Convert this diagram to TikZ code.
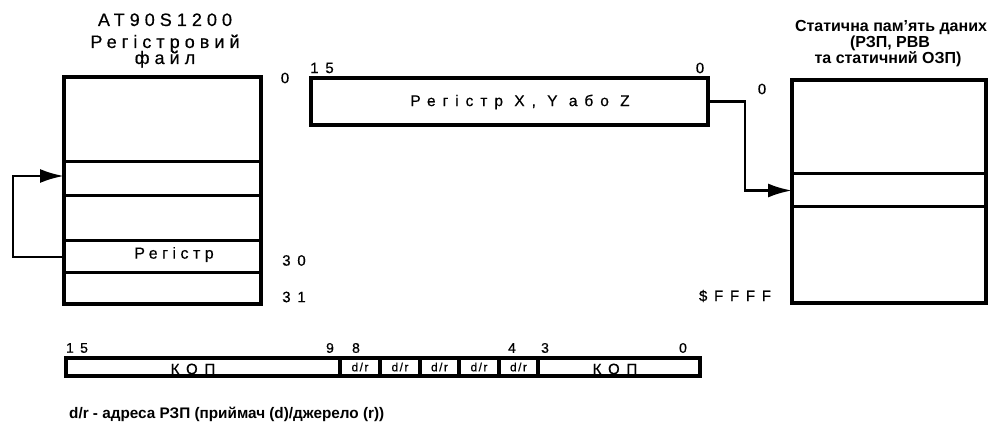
\documentclass[tikz,border=0pt]{standalone}
\usepackage{fontspec}
\setmainfont{Liberation Sans}
\newfontfamily\spA[LetterSpace=28,FakeBold=0.5]{Liberation Sans}
\newfontfamily\spB[LetterSpace=45,FakeBold=0.5]{Liberation Sans}
\newfontfamily\spC[LetterSpace=12,FakeBold=0.6]{Liberation Sans}
\usetikzlibrary{arrows.meta}

\begin{document}
\begin{tikzpicture}[x=1pt,y=-1pt,
  frame/.style={draw, line width=3.4pt, inner sep=0pt, outer sep=0pt},
  cell/.style={draw, line width=3pt, inner sep=0pt, outer sep=0pt},
  sep/.style={line width=4pt},
  wire/.style={line width=2.8pt, -{Latex[length=24pt,width=14pt]}},
  title/.style={inner sep=0pt, anchor=base, font=\spA\fontsize{18}{18}\selectfont},
  lab/.style={inner sep=0pt, font=\spA\fontsize{16}{16}\selectfont},
  num/.style={inner sep=0pt, font=\spB\fontsize{15}{15}\selectfont},
  bit/.style={inner sep=0pt, font=\spB\fontsize{14}{14}\selectfont},
  dr/.style={inner sep=0pt, font=\spC\fontsize{12}{12}\selectfont},
  kop/.style={inner sep=0pt, font=\spB\fontsize{15}{15}\selectfont},
  head/.style={inner sep=0pt, anchor=base, font=\bfseries\fontsize{16}{16}\selectfont},
]
\useasboundingbox (0,0) rectangle (1006,427);
\fill[white] (0,0) rectangle (1006,427);

% register file of the AT90S1200
\node[title] (t1) at (165,26) {AT90S1200};
\node[title] (t2) at (165,48) {Регістровий};
\node[title] (t3) at (165,64) {файл};
\node[frame, minimum width=197pt, minimum height=227pt] (rf) at (162.5,190.5) {};
\node[cell, minimum width=197pt, minimum height=34pt] (tr) at (162.5,179) {};
\node[cell, minimum width=197pt, minimum height=45pt] (mid) at (162.5,218.5) {};
\node[cell, minimum width=197pt, minimum height=32pt] (rr) at (162.5,257) {};
\node[lab] (rrt) at (174,254.5) {Регістр};
\node[num] (n0) at (285,78) {0};
\node[num] (n30) at (294,260.5) {30};
\node[num] (n31) at (294,297) {31};

% feedback from the register back into the file
\coordinate (tin) at (64,176);
\coordinate (lb) at (13,257);
\draw[wire] (rr.west) -- (lb) |- (tin);

% pointer register X, Y or Z
\node[frame, minimum width=397pt, minimum height=47pt] (xr) at (509.5,101.5) {};
\node[inner sep=0pt, font=\spB\fontsize{15.5}{15.5}\selectfont] (xrt) at (520,102) {Регістр X, Y або Z};
\node[num] (x15) at (322,68) {15};
\node[num] (x0) at (700,68) {0};

% static data memory
\node[head] (m1) at (891,32) {Статична пам’ять даних};
\node[head] (m2) at (890,48) {(РЗП, РВВ};
\node[head] (m3) at (888,64) {та статичний ОЗП)};
\node[frame, minimum width=194pt, minimum height=223pt] (mem) at (889,191.5) {};
\node[cell, minimum width=194pt, minimum height=33pt] (mrow) at (889,190.5) {};
\node[num] (m0) at (762,89) {0};
\node[num] (mf) at (735,296) {\$FFFF};

\coordinate (bend) at (745,101.5);
\draw[wire] (xr.east) -- (bend) |- (mrow.west);

% instruction word
\node[frame, minimum width=634pt, minimum height=18pt] (iw) at (383,367) {};
\foreach \x in {340,380,419.5,459,498.5,538}
  \draw[sep] (\x,358) -- (\x,376);
\node[kop] (k1) at (193,369) {КОП};
\node[kop] (k2) at (615,369) {КОП};
\foreach \x/\n in {360/a,400/b,439.5/c,479/d,518.5/e}
  \node[dr] (dr\n) at (\x,367) {d/r};
\node[bit] (b15) at (77,348) {15};
\node[bit] (b9) at (330,348) {9};
\node[bit] (b8) at (356,348) {8};
\node[bit] (b4) at (512,348) {4};
\node[bit] (b3) at (545,348) {3};
\node[bit] (b0) at (683,348) {0};

\node[inner sep=0pt, anchor=base west, font=\bfseries\fontsize{15.3}{15.3}\selectfont] (note) at (69,418)
  {d/r - адреса РЗП (приймач (d)/джерело (r))};
\end{tikzpicture}
\end{document}
